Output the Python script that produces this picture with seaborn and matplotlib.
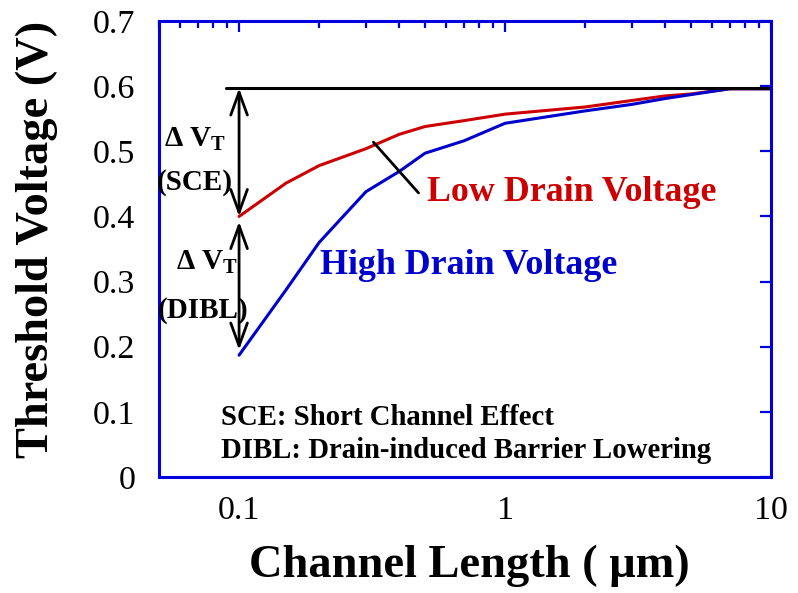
import numpy as np
import pandas as pd
import matplotlib
matplotlib.use("Agg")
import matplotlib.pyplot as plt
import seaborn as sns

# ---- data ----
channel_length = [0.1, 0.15, 0.2, 0.3, 0.4, 0.5, 0.7, 1, 2, 3, 4, 5, 7, 10]
vt_low_drain = [0.400, 0.451, 0.478, 0.504, 0.526, 0.538, 0.547, 0.557, 0.568, 0.578, 0.585, 0.588, 0.596, 0.596]
vt_high_drain = [0.187, 0.287, 0.360, 0.438, 0.469, 0.497, 0.516, 0.543, 0.562, 0.572, 0.581, 0.587, 0.596, 0.596]
vt_long_channel = 0.597
series_names = ["Low Drain Voltage", "High Drain Voltage"]
x_ticks = [0.1, 1, 10]
x_tick_labels = ["0.1", "1", "10"]
y_ticks = [0, 0.1, 0.2, 0.3, 0.4, 0.5, 0.6, 0.7]
y_tick_labels = ["0", "0.1", "0.2", "0.3", "0.4", "0.5", "0.6", "0.7"]

sns.set_style("white")
plt.rcParams["font.family"] = ["Liberation Serif", "DejaVu Serif"]
plt.rcParams["mathtext.default"] = "regular"
plt.rcParams["text.color"] = "black"
plt.rcParams["axes.labelcolor"] = "black"

BLUE = "#0000DD"
RED = "#CC0000"
LINE_BLUE = "#0000CC"

df = pd.DataFrame({
    "L": channel_length * 2,
    "Vt": vt_low_drain + vt_high_drain,
    "series": [series_names[0]] * len(channel_length) + [series_names[1]] * len(channel_length),
})

fig = plt.figure(figsize=(7.98, 5.93), dpi=100)
ax = fig.add_axes([159 / 798, 116 / 593, 612 / 798, 456 / 593])

sns.lineplot(data=df, x="L", y="Vt", hue="series", palette=[RED, LINE_BLUE],
             linewidth=2.2, legend=False, ax=ax, sort=False)

ax.set_xscale("log")
ax.set_xlim(0.05, 10)
ax.set_ylim(0, 0.7)
ax.set_xticks(x_ticks, labels=x_tick_labels)
ax.set_yticks(y_ticks, labels=y_tick_labels)

for s in ax.spines.values():
    s.set_color(BLUE)
    s.set_linewidth(2.2)

ax.tick_params(which="both", direction="in", top=True, right=True, color=BLUE, labelcolor="black")
ax.tick_params(which="major", length=8, width=1.6, labelsize=24.5, pad=13)
ax.tick_params(axis="y", which="major", pad=17)
ax.tick_params(which="minor", length=5, width=1.6)

ax.set_xlabel("Channel Length ( \u03bcm)", fontsize=33.4, fontweight="bold")
ax.set_ylabel("Threshold Voltage (V)", fontsize=33.4, fontweight="bold")
ax.xaxis.label.set_va("center")
ax.yaxis.label.set_va("center")
ax.xaxis.set_label_coords(0.5065, -0.195)
ax.yaxis.set_label_coords(-0.199, 0.52)

# long-channel reference line
ax.plot([0.089, 10], [vt_long_channel, vt_long_channel], color="black", lw=2.2, clip_on=False)

# double arrows
arrow_kw = dict(arrowstyle="<->,head_length=0.55,head_width=0.2", lw=2.0, color="black",
                shrinkA=0, shrinkB=0, mutation_scale=30)
ax.annotate("", xy=(0.1, vt_low_drain[0]), xytext=(0.1, vt_long_channel), arrowprops=arrow_kw)
ax.annotate("", xy=(0.1, 0.195), xytext=(0.1, 0.392), arrowprops=arrow_kw)

# pointer line
ax.plot([0.32, 0.473], [0.514, 0.436], color="black", lw=2.0)

tk = dict(fontweight="bold", color="black")
ax.text(0.0686, 0.518, "\u0394 V$_{T}$", fontsize=21, ha="center", va="center", **tk)
ax.text(0.068, 0.452, "(SCE)", fontsize=21, ha="center", va="center", **tk)
ax.text(0.076, 0.329, "\u0394 V$_{T}$", fontsize=21, ha="center", va="center", **tk)
ax.text(0.0735, 0.256, "(DIBL)", fontsize=21, ha="center", va="center", **tk)

ax.text(0.511, 0.436, series_names[0], fontsize=25.8, fontweight="bold", color=RED, ha="left", va="center")
ax.text(0.202, 0.325, series_names[1], fontsize=25.8, fontweight="bold", color=LINE_BLUE, ha="left", va="center")

ax.text(0.0857, 0.092, "SCE: Short Channel Effect", fontsize=20.7, ha="left", va="center", **tk)
ax.text(0.0857, 0.041, "DIBL: Drain-induced Barrier Lowering", fontsize=20.7, ha="left", va="center", **tk)

fig.savefig("out.png", dpi=100)
